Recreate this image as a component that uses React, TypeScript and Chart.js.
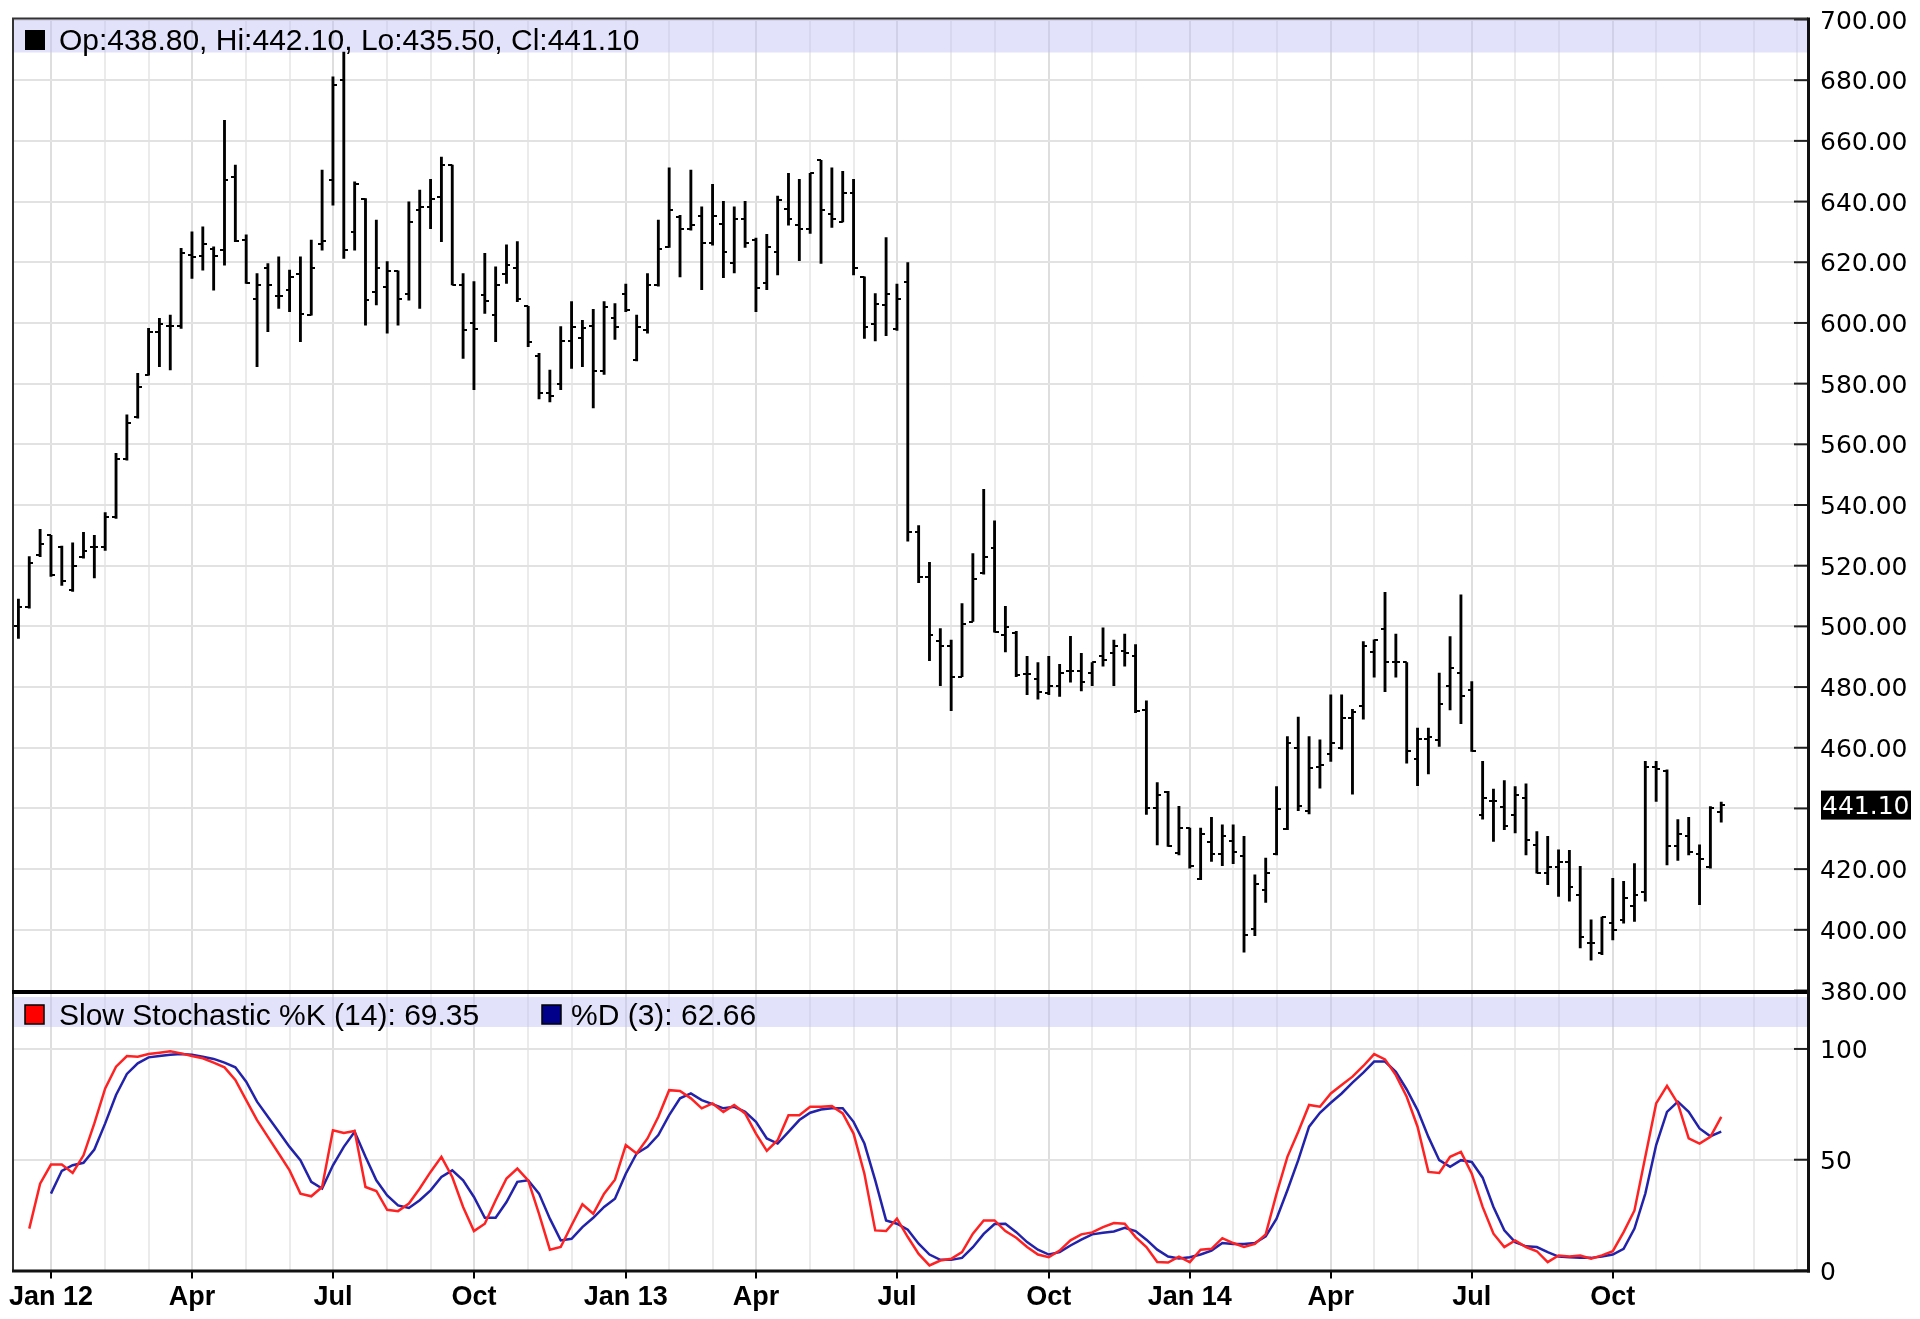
import React, { useEffect, useRef } from "react";
import { Chart, registerables } from "chart.js";

Chart.register(...registerables);

// ---- Weekly OHLC (week index 0 = mid Dec 2011) ----
const opens = [
  500, 506.5, 523.5, 530, 526, 512, 523, 526, 526, 536,
  555, 569, 583, 597, 599, 599, 622.4, 622, 624.5, 624,
  648, 627.3, 607.8, 618, 609, 610.8, 616, 602.6, 626, 647,
  680, 630, 640.8, 610.3, 612, 617.2, 609.7, 637.2, 638.3, 641.6,
  652, 612.5, 600, 609.2, 602.6, 616, 618, 605.5, 589, 577,
  580, 594, 594.9, 599, 584, 601.5, 609.7, 587.8, 597.6, 612.5,
  625.1, 634.8, 630.8, 635.2, 626.2, 632.5, 619.8, 634.4, 627.3, 613,
  623.5, 637.7, 632.2, 631.1, 653.6, 636, 633.3, 642.9, 615.2, 599.8,
  606, 597.9, 613.4, 531.1, 516.4, 495.2, 493.4, 483.4, 501.6, 517.5,
  525.8, 497.2, 497.9, 484.2, 482.8, 478.1, 480.2, 485.2, 485.4, 484.6,
  490.1, 491.1, 492, 490.1, 472.5, 440, 445.4, 425.3, 433.5, 416.7,
  428.8, 425.1, 429.4, 424.4, 400.3, 413.2, 425.1, 433.2, 459.9, 439.3,
  453.8, 458, 459.9, 469.7, 473.6, 491.7, 499.1, 488.1, 488.1, 456.2,
  462.8, 462.6, 480.2, 484.6, 478.9, 437.9, 442.6, 440.6, 437.9, 443.4,
  428, 418.7, 420.7, 422.5, 411.6, 395.6, 392.3, 402.2, 403.3, 407.7,
  412.3, 453.6, 452.5, 427.7, 430.8, 425.1, 420.7, 438.8,
];
const highs = [
  509, 523, 532, 530, 526.5, 527.5, 531, 530, 537.5, 557,
  569.7, 583.4, 598.2, 601.5, 602.6, 624.6, 630, 631.7, 625.1, 666.8,
  652, 629, 616.3, 619.6, 621.8, 617.4, 621.8, 627.3, 650.4, 681.1,
  689.3, 646.5, 641, 633.9, 620.2, 617.2, 639.9, 643.8, 647.3, 654.7,
  652, 616.3, 613.6, 622.9, 618.5, 625.7, 626.8, 605.5, 590, 584.5,
  598.8, 607, 600.9, 604.5, 607, 606.4, 612.8, 602.6, 616.3, 633.9,
  651.1, 635.5, 650.4, 638.3, 645.7, 640.1, 638.3, 640.1, 628, 629.2,
  641.8, 649.3, 647.3, 649.3, 653.6, 651.1, 650, 647.3, 615.2, 609.7,
  628.1, 612.8, 619.9, 533.2, 521.1, 499.3, 495.5, 507.5, 524, 545.2,
  534.8, 506.6, 498.4, 490.1, 488.1, 490.1, 487.5, 496.7, 491.1, 488.1,
  499.5, 495.5, 497.5, 494, 475.5, 448.5, 445.6, 440.7, 433.5, 433.5,
  437.1, 434.6, 434.6, 430.8, 418.1, 423.6, 447.2, 463.7, 470.1, 463.7,
  462.6, 477.4, 477.4, 472.7, 495, 495.6, 511.2, 497.5, 488.1, 466.5,
  466.5, 484.6, 496.6, 510.4, 481.8, 455.5, 446.4, 449.2, 447.2, 448.1,
  432.4, 430.8, 426.4, 426.2, 420.9, 403.3, 404.2, 417, 416, 421.8,
  455.5, 455.5, 452.7, 436.3, 437.1, 428, 440.6, 442.1,
];
const lows = [
  496, 506, 523, 516.5, 513.5, 511.5, 522.5, 516, 525, 535.6,
  554.8, 568.6, 582.8, 585.6, 584.5, 598.2, 614.7, 617.4, 610.8, 619,
  626.8, 613, 585.6, 597.1, 604.8, 603.7, 593.8, 602.6, 624, 638.8,
  621.3, 624, 599.3, 605.9, 596.6, 599.3, 607.5, 604.8, 631.1, 626.8,
  612.5, 588.3, 578, 603.1, 593.8, 613, 607, 592.2, 575, 574,
  578, 585, 585.6, 572, 583, 594.6, 603.7, 587.5, 596.6, 612.1,
  624.9, 615.2, 630.6, 611, 625.6, 614.9, 616.5, 624.9, 603.7, 611,
  615.8, 632.2, 620.5, 629.5, 619.6, 631.5, 633.3, 615.8, 594.9, 594.1,
  595.8, 597.5, 528.1, 514.4, 488.7, 480.5, 472.2, 483.4, 501.6, 517.2,
  498.1, 491.6, 483.4, 477.5, 476, 477.5, 476.9, 481.6, 478.7, 480.5,
  486.9, 480.5, 486.9, 471.6, 438, 428, 427.5, 424.7, 420.3, 416.5,
  422.5, 421.1, 421.8, 392.6, 398.1, 409, 424.7, 433, 439.3, 438.2,
  446.7, 455.5, 459.5, 444.7, 469.4, 483.3, 478.5, 483.3, 454.9, 447.5,
  451.4, 460.4, 472.5, 467.9, 458.8, 436.5, 429.1, 433, 431.9, 424.7,
  418.7, 414.9, 411, 409.4, 394, 390, 391.8, 396.7, 402.2, 402.8,
  409.4, 442.3, 421.4, 422.9, 424.7, 408.3, 420.3, 435.5,
];
const closes = [
  506.5, 521, 527, 517, 515, 520, 525, 526, 536, 555,
  567, 579, 597, 599.8, 599, 622.9, 621.8, 626, 622, 647,
  627, 613, 612.5, 612.5, 609, 615.2, 603, 618, 627, 678.4,
  624.2, 645.7, 607.5, 618, 617.2, 608, 633.3, 638.3, 641, 652,
  612.5, 597.6, 598, 607.2, 612.5, 619, 607.8, 593.8, 577, 576,
  594, 598.8, 598.2, 584, 605.3, 598.7, 604.2, 598.7, 612.5, 624.5,
  637.2, 630.8, 632.4, 626.2, 635.2, 623.5, 634.4, 626.2, 611.4, 625.1,
  640.5, 634.4, 631.1, 649.3, 637.2, 634.4, 642.9, 618.2, 598.7, 606.4,
  609.6, 607.8, 531.1, 516.4, 497.2, 493.4, 483.4, 500.7, 515.5, 522.8,
  498.1, 499.9, 484, 484.2, 478.4, 480.2, 484.6, 485.4, 481.6, 488.1,
  488.9, 493.4, 491.1, 472, 440, 444.5, 427.7, 433.5, 421.1, 431.6,
  425.1, 430.8, 425.8, 398.4, 415.2, 418.7, 439.8, 461.7, 440.7, 453.3,
  454.4, 461.7, 469.7, 471.9, 493.6, 495.6, 488.1, 488.1, 458.8, 462.8,
  463.5, 474.5, 486.4, 477.1, 458.8, 443.4, 442.6, 434.1, 444.5, 429.7,
  418.7, 420.7, 422.5, 414.1, 397.6, 395.6, 404.2, 399.8, 410.5, 411.6,
  453.6, 453, 427.7, 431.6, 425.5, 423.3, 440.1, 441.1,
];

// ---- Slow stochastic (%K from week 1, %D from week 3) ----
const K_START = 1;
const stochK = [
  18.9, 39.2, 47.8, 47.8, 44, 52, 66.4, 82.2, 92, 96.8,
  96.5, 97.7, 98.3, 98.9, 98, 96.8, 95.8, 93.8, 91.7, 86,
  76.9, 67.9, 60.3, 52.8, 45.2, 34.7, 33.5, 37.7, 63.3, 62.1,
  63, 37.7, 35.9, 27.4, 26.8, 30.2, 37, 44.5, 51.3, 42.2,
  28.7, 17.8, 21.1, 31.7, 41.5, 46, 40.7, 25.6, 9.4, 10.6,
  20.4, 29.9, 25.6, 34.7, 41, 56.6, 52.8, 59.6, 69.4, 81.4,
  81, 77.7, 73.2, 75.4, 71.6, 74.7, 70.9, 61.8, 54, 58.8,
  70.1, 70.1, 73.9, 73.9, 74.2, 70.9, 61.8, 43.7, 18.1, 17.8,
  23.4, 15.1, 7.5, 2.3, 4.5, 5.3, 8.3, 16.6, 22.6, 22.6,
  17.8, 14.8, 10.6, 7.2, 6, 9, 13.6, 16.3, 17.2, 19.6,
  21.4, 21.1, 15.1, 10.6, 3.8, 3.6, 6.3, 3.8, 9.4, 9.8,
  14.6, 12.4, 10.6, 12, 16.3, 34.7, 51.3, 62.6, 74.7, 73.9,
  79.9, 83.7, 87.5, 92.3, 97.7, 95.3, 88.2, 78.4, 64.9, 44.5,
  44, 51.3, 53.5, 43.7, 28.7, 16.6, 10.6, 13.6, 10.6, 8.7,
  3.8, 6.8, 6.3, 6.8, 5.3, 6.8, 8.7, 17.3, 27.1, 51.3,
  75.4, 83.3, 75.4, 59.6, 57.3, 60.3, 69.35,
];
const D_START = 3;
const stochD = [
  34.7, 45, 47.5, 48.6, 54.6, 66.4, 79.2, 88.7, 93.5, 96.2,
  96.8, 97.4, 97.7, 97.4, 96.5, 95.5, 93.8, 91.7, 85.2, 76.2,
  69.4, 62.6, 55.8, 49.8, 40, 37, 47.5, 55.8, 62.6, 51.3,
  40.7, 33.9, 29.4, 28.2, 31.7, 36.2, 42.2, 45.2, 40.7, 33.2,
  23.8, 23.8, 30.9, 40, 40.7, 34.7, 23.4, 13.6, 14.3, 19.6,
  23.8, 28.7, 32.4, 43.7, 52.8, 55.8, 61.1, 70.1, 77.7, 79.9,
  76.9, 75.1, 73.2, 73.9, 71.6, 67.1, 59.6, 57.3, 62.6, 67.9,
  71.2, 72.7, 73.2, 73.2, 67.1, 57.3, 40.7, 22.6, 21.1, 18.4,
  12.1, 7.2, 4.8, 4.8, 5.7, 10.5, 16.5, 21, 21.1, 17.3,
  12.8, 9.4, 7.2, 8.3, 11.3, 13.9, 16.3, 17, 17.6, 19.3,
  17.8, 13.9, 9.4, 6.3, 5.4, 6, 7.2, 9, 12.4, 12,
  12, 12.4, 15.4, 23.4, 36.2, 49.8, 64.9, 71.2, 75.7, 79.9,
  84.8, 89.3, 94.3, 94.3, 89.7, 81.7, 72.4, 60.3, 49.8, 46.8,
  49.8, 49, 41.9, 28.7, 18.1, 12.8, 10.9, 10.6, 8.3, 6.3,
  6, 5.7, 5.7, 6.3, 7.2, 9.8, 18.9, 34.7, 56.6, 71.6,
  76.2, 71.6, 64.1, 60.6, 62.66,
];

// ---- Axis: week indices of the first week of each month, quarter labels ----
const monthGrid = [
  3, 8, 12, 16, 21, 25, 29, 34, 38, 42, 47, 51,
  56, 60, 64, 68, 73, 77, 81, 86, 90, 95, 99, 103,
  108, 112, 116, 121, 125, 129, 134, 138, 142, 147, 151, 155,
  160, 164,
];
const quarterTicks = [3, 16, 29, 42, 56, 68, 81, 95, 108, 121, 134, 147];
const quarterLabels = ["Jan 12", "Apr", "Jul", "Oct", "Jan 13", "Apr", "Jul", "Oct", "Jan 14", "Apr", "Jul", "Oct"];
const stochTicks = [0, 50, 100];
const PRICE_MIN = 380;
const PRICE_MAX = 700;
const PRICE_STEP = 20;
const STOCH_MAX = 124.8;

const headerText = "Op:438.80, Hi:442.10, Lo:435.50, Cl:441.10";
const kLegend = "Slow Stochastic %K (14): 69.35";
const dLegend = "%D (3): 62.66";

const X_MIN = -0.5;
const X_MAX = 165;
const AXIS_W = 112;
const AXIS_FONT = { family: '"DejaVu Sans", sans-serif', size: 25 };
const TEXT_FONT = '30px "Liberation Sans", Arial, sans-serif';

function makeTick(side: "left" | "right") {
  const c = document.createElement("canvas");
  c.width = 8;
  c.height = 2;
  const ctx = c.getContext("2d")!;
  ctx.fillStyle = "#000";
  if (side === "left") ctx.fillRect(0, 0, 4, 2);
  else ctx.fillRect(4, 0, 4, 2);
  return c;
}

function xScale(showLabels: boolean): any {
  return {
    type: "linear",
    min: X_MIN,
    max: X_MAX,
    offset: false,
    afterBuildTicks: (s: any) => {
      s.ticks = monthGrid.map((v) => ({ value: v }));
    },
    grid: {
      offset: false,
      lineWidth: 2,
      color: (c: any) => (c.tick && quarterTicks.includes(c.tick.value) ? "rgba(0,0,0,0.13)" : "rgba(0,0,0,0.08)"),
      drawTicks: showLabels,
      tickLength: 8,
      tickWidth: 2,
      tickColor: (c: any) => (c.tick && quarterTicks.includes(c.tick.value) ? "#000" : "rgba(0,0,0,0)"),
    },
    border: { display: false },
    ticks: {
      display: showLabels,
      autoSkip: false,
      maxRotation: 0,
      padding: 3,
      color: "#000",
      font: { family: '"Liberation Sans", Arial, sans-serif', size: 27, weight: "bold" },
      callback: (v: any) => {
        const k = quarterTicks.indexOf(Number(v));
        return k >= 0 ? quarterLabels[k] : "";
      },
    },
    afterFit: (s: any) => {
      s.height = showLabels ? 48.5 : 0;
      s.paddingLeft = 0;
      s.paddingRight = 0;
    },
  };
}

function inwardTicks(ctx: CanvasRenderingContext2D, a: any, scale: any) {
  ctx.strokeStyle = "#222";
  ctx.lineWidth = 2;
  scale.ticks.forEach((t: any) => {
    const py = scale.getPixelForValue(t.value);
    ctx.beginPath();
    ctx.moveTo(a.right - 14, py);
    ctx.lineTo(a.right, py);
    ctx.stroke();
  });
}

const mainDeco = {
  id: "mainDeco",
  beforeDatasetsDraw(chart: any) {
    const { ctx, chartArea: a } = chart;
    ctx.save();
    ctx.fillStyle = "rgba(190,190,245,0.45)";
    ctx.fillRect(a.left, a.top, a.right - a.left, 33);
    ctx.restore();
  },
  afterDraw(chart: any) {
    const { ctx, chartArea: a, scales } = chart;
    const y = scales.y;
    ctx.save();
    inwardTicks(ctx, a, y);
    ctx.strokeStyle = "#333";
    ctx.lineWidth = 2;
    ctx.beginPath();
    ctx.moveTo(a.left, a.bottom);
    ctx.lineTo(a.left, a.top - 1);
    ctx.lineTo(a.right, a.top - 1);
    ctx.stroke();
    ctx.strokeStyle = "#111";
    ctx.lineWidth = 3;
    ctx.beginPath();
    ctx.moveTo(a.right + 0.5, a.top - 2);
    ctx.lineTo(a.right + 0.5, a.bottom + 20);
    ctx.stroke();
    // header legend
    ctx.fillStyle = "#000";
    ctx.fillRect(25, 30, 20, 20);
    ctx.font = TEXT_FONT;
    ctx.textBaseline = "alphabetic";
    ctx.textAlign = "left";
    ctx.fillText(headerText, 59, 50);
    // last price box
    const last = closes[closes.length - 1];
    const py = y.getPixelForValue(last);
    ctx.fillStyle = "#000";
    ctx.fillRect(a.right + 13, py - 14.5, 90, 29);
    ctx.fillStyle = "#fff";
    ctx.font = '25px "DejaVu Sans", sans-serif';
    ctx.textBaseline = "middle";
    ctx.fillText(last.toFixed(2), a.right + 14, py + 2);
    ctx.restore();
  },
};

const stochDeco = {
  id: "stochDeco",
  beforeDatasetsDraw(chart: any) {
    const { ctx, chartArea: a } = chart;
    ctx.save();
    ctx.fillStyle = "rgba(190,190,245,0.45)";
    ctx.fillRect(a.left, a.top + 3, a.right - a.left, 30);
    ctx.restore();
  },
  afterDraw(chart: any) {
    const { ctx, chartArea: a, scales } = chart;
    ctx.save();
    inwardTicks(ctx, a, scales.y);
    // separator
    ctx.fillStyle = "#000";
    ctx.fillRect(a.left - 1, a.top - 4, a.right - a.left + 2, 4);
    ctx.strokeStyle = "#333";
    ctx.lineWidth = 2;
    ctx.beginPath();
    ctx.moveTo(a.left, a.top);
    ctx.lineTo(a.left, a.bottom);
    ctx.stroke();
    ctx.strokeStyle = "#111";
    ctx.lineWidth = 3;
    ctx.beginPath();
    ctx.moveTo(a.left - 1, a.bottom + 0.5);
    ctx.lineTo(a.right + 2, a.bottom + 0.5);
    ctx.stroke();
    ctx.beginPath();
    ctx.moveTo(a.right + 0.5, a.top - 4);
    ctx.lineTo(a.right + 0.5, a.bottom + 2);
    ctx.stroke();
    // legend
    ctx.lineWidth = 1.5;
    ctx.fillStyle = "#ff0000";
    ctx.fillRect(25, a.top + 11, 19, 19);
    ctx.strokeStyle = "#000";
    ctx.strokeRect(25, a.top + 11, 19, 19);
    ctx.fillStyle = "#00008b";
    ctx.fillRect(542, a.top + 11, 19, 19);
    ctx.strokeRect(542, a.top + 11, 19, 19);
    ctx.fillStyle = "#000";
    ctx.font = TEXT_FONT;
    ctx.textBaseline = "alphabetic";
    ctx.textAlign = "left";
    ctx.fillText(kLegend, 59, a.top + 31);
    ctx.fillText(dLegend, 571, a.top + 31);
    ctx.restore();
  },
};

export default function App() {
  const mainRef = useRef<HTMLCanvasElement>(null);
  const stochRef = useRef<HTMLCanvasElement>(null);

  useEffect(() => {
    const openTick = makeTick("left");
    const closeTick = makeTick("right");

    const main = new Chart(mainRef.current!, {
      type: "bar",
      data: {
        datasets: [
          {
            type: "line",
            data: opens.map((o, i) => ({ x: i, y: o })),
            showLine: false,
            pointStyle: openTick as any,
            pointRadius: 4,
            order: 1,
          } as any,
          {
            type: "line",
            data: closes.map((c, i) => ({ x: i, y: c })),
            showLine: false,
            pointStyle: closeTick as any,
            pointRadius: 4,
            order: 1,
          } as any,
          {
            type: "bar",
            data: highs.map((h, i) => ({ x: i, y: [lows[i], h] })),
            backgroundColor: "#000",
            borderWidth: 0,
            barThickness: 2.2,
            order: 2,
          } as any,
        ],
      },
      options: {
        responsive: false,
        maintainAspectRatio: false,
        animation: false,
        devicePixelRatio: 1,
        events: [],
        layout: { padding: { left: 13, top: 19.5, right: 0, bottom: 19.5 } },
        plugins: { legend: { display: false }, tooltip: { enabled: false }, title: { display: false } },
        scales: {
          x: xScale(false),
          y: {
            type: "linear",
            position: "right",
            min: PRICE_MIN,
            max: PRICE_MAX,
            grid: { color: "#e2e2e2", lineWidth: 2, drawTicks: false },
            border: { display: false },
            ticks: {
              stepSize: PRICE_STEP,
              padding: 12,
              labelOffset: 2.5,
              color: "#000",
              font: AXIS_FONT,
              callback: (v: any) => (Number(v) === 440 ? "" : Number(v).toFixed(2)),
            },
            afterFit: (s: any) => {
              s.width = AXIS_W;
              s.paddingTop = 0;
              s.paddingBottom = 0;
            },
          } as any,
        },
      },
      plugins: [mainDeco],
    });

    const stoch = new Chart(stochRef.current!, {
      type: "line",
      data: {
        datasets: [
          {
            data: stochK.map((v, j) => ({ x: j + K_START, y: v })),
            borderColor: "#ff2222",
            borderWidth: 2.5,
            pointRadius: 0,
            tension: 0,
          },
          {
            data: stochD.map((v, j) => ({ x: j + D_START, y: v })),
            borderColor: "#2222aa",
            borderWidth: 2.5,
            pointRadius: 0,
            tension: 0,
          },
        ],
      },
      options: {
        responsive: false,
        maintainAspectRatio: false,
        animation: false,
        devicePixelRatio: 1,
        events: [],
        layout: { padding: { left: 13, top: 19, right: 0, bottom: 0 } },
        plugins: { legend: { display: false }, tooltip: { enabled: false } },
        scales: {
          x: xScale(true),
          y: {
            type: "linear",
            position: "right",
            min: 0,
            max: STOCH_MAX,
            afterBuildTicks: (s: any) => {
              s.ticks = stochTicks.map((v) => ({ value: v }));
            },
            grid: { color: "#e2e2e2", lineWidth: 2, drawTicks: false },
            border: { display: false },
            ticks: { padding: 12, labelOffset: 2.5, color: "#000", font: AXIS_FONT, callback: (v: any) => String(v) },
            afterFit: (s: any) => {
              s.width = AXIS_W;
              s.paddingTop = 0;
              s.paddingBottom = 0;
            },
          } as any,
        },
      },
      plugins: [stochDeco],
    });

    return () => {
      main.destroy();
      stoch.destroy();
    };
  }, []);

  return (
    <div style={{ position: "absolute", left: 0, top: 0, width: 1920, height: 1319, background: "#fff", overflow: "hidden" }}>
      <canvas ref={mainRef} width={1920} height={1010} style={{ position: "absolute", left: 0, top: 0, width: 1920, height: 1010 }} />
      <canvas ref={stochRef} width={1920} height={344} style={{ position: "absolute", left: 0, top: 975, width: 1920, height: 344 }} />
    </div>
  );
}
